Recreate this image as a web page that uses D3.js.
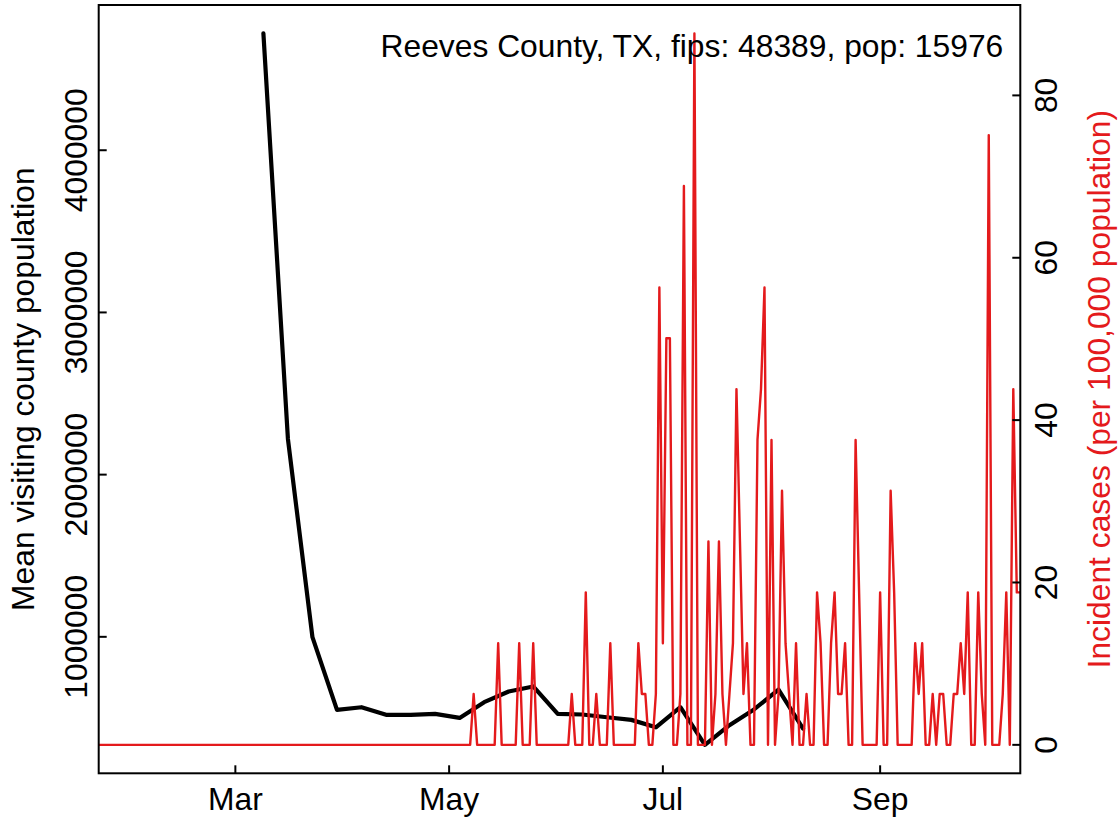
<!DOCTYPE html>
<html>
<head>
<meta charset="utf-8">
<script src="https://cdn.jsdelivr.net/npm/d3@7/dist/d3.min.js"></script>
<style>
  html, body { margin: 0; padding: 0; background: #ffffff; }
  svg { display: block; }
  text { font-family: "Liberation Sans", Arial, Helvetica, sans-serif; }
</style>
</head>
<body>
<svg id="chart" width="1119" height="822"></svg>
<script>
// ---------------- data ----------------
const titleText = "Reeves County, TX, fips: 48389, pop: 15976";
const leftAxisTitle = "Mean visiting county population";
const rightAxisTitle = "Incident cases (per 100,000 population)";

// weekly mean visiting county population (black line)
const mobilityDates = [
  "2020-03-09","2020-03-16","2020-03-23","2020-03-30","2020-04-06","2020-04-13",
  "2020-04-20","2020-04-27","2020-05-04","2020-05-11","2020-05-18","2020-05-25",
  "2020-06-01","2020-06-08","2020-06-15","2020-06-22","2020-06-29","2020-07-06",
  "2020-07-13","2020-07-20","2020-07-27","2020-08-03","2020-08-10"
];
const mobilityValues = [
  4720000, 2220000, 998000, 550000, 566000, 519000,
  519000, 525000, 500000, 597000, 663000, 694000,
  525000, 521000, 504000, 488000, 442000, 566000,
  334000, 455000, 552000, 675000, 434000
];

// daily incident cases per 100,000 (red line), from 2020-01-22 to 2020-10-11
const caseStartDate = "2020-01-22";
const caseValues = [
  0,0,0,0,0,0,0,0,0,0,
  0,0,0,0,0,0,0,0,0,0,
  0,0,0,0,0,0,0,0,0,0,
  0,0,0,0,0,0,0,0,0,0,
  0,0,0,0,0,0,0,0,0,0,
  0,0,0,0,0,0,0,0,0,0,
  0,0,0,0,0,0,0,0,0,0,
  0,0,0,0,0,0,0,0,0,0,
  0,0,0,0,0,0,0,0,0,0,
  0,0,0,0,0,0,0,0,0,0,
  0,0,0,0,0,0,0,
  6.26,0,0,0,0,0,0,12.52,0,0,
  0,0,0,12.52,0,0,0,12.52,0,0,
  0,0,0,0,0,0,0,0,6.26,0,
  0,0,18.78,0,0,6.26,0,0,0,12.52,
  0,0,0,0,0,0,0,12.52,6.26,6.26,
  0,0,6.26,56.33,12.52,50.08,50.08,0,0,6.26,
  68.85,0,0,87.63,0,0,0,25.04,0,6.26,
  25.04,6.26,0,6.26,12.52,43.82,25.04,6.26,12.52,0,
  0,37.56,43.82,56.33,0,37.56,0,6.26,31.30,12.52,
  6.26,0,12.52,0,0,6.26,0,0,18.78,12.52,
  0,0,12.52,18.78,6.26,6.26,12.52,0,0,37.56,
  18.78,0,0,0,0,0,18.78,0,0,31.30,
  18.78,0,0,0,0,0,12.52,6.26,12.52,0,
  0,6.26,0,6.26,6.26,0,0,6.26,6.26,12.52,
  6.26,18.78,0,0,18.78,6.26,0,75.11,0,0,
  0,6.26,18.78,0,43.82,18.78,18.78
];

const xTickDates = ["2020-03-01","2020-05-01","2020-07-01","2020-09-01"];
const xTickLabels = ["Mar","May","Jul","Sep"];
const leftTicks = [1000000, 2000000, 3000000, 4000000];
const leftTickLabels = ["1000000","2000000","3000000","4000000"];
const rightTicks = [0, 20, 40, 60, 80];
const rightTickLabels = ["0","20","40","60","80"];

// ---------------- layout ----------------
const plot = { left: 98.7, right: 1020.3, top: 5, bottom: 773.3 };
const fontSize = 31.8;
const red = "#E41A1C";

const parse = d3.utcParse("%Y-%m-%d");
const start = parse(caseStartDate);
const caseData = caseValues.map((v, i) => ({ date: d3.utcDay.offset(start, i), value: v }));
const mobData = mobilityDates.map((d, i) => ({ date: parse(d), value: mobilityValues[i] }));

const x = d3.scaleUtc()
  .domain([caseData[0].date, caseData[caseData.length - 1].date])
  .range([plot.left, plot.right]);

function rPad(ext) { const r = ext[1] - ext[0]; return [ext[0] - 0.04 * r, ext[1] + 0.04 * r]; }

const yL = d3.scaleLinear().domain(rPad(d3.extent(mobilityValues))).range([plot.bottom, plot.top]);
const yR = d3.scaleLinear().domain(rPad(d3.extent(caseValues))).range([plot.bottom, plot.top]);

const svg = d3.select("#chart");

// black line
svg.append("path")
  .datum(mobData)
  .attr("fill", "none")
  .attr("stroke", "#000")
  .attr("stroke-width", 4.2)
  .attr("stroke-linejoin", "round")
  .attr("stroke-linecap", "round")
  .attr("d", d3.line().x(d => x(d.date)).y(d => yL(d.value)));

// red line
svg.append("path")
  .datum(caseData)
  .attr("fill", "none")
  .attr("stroke", red)
  .attr("stroke-width", 2.4)
  .attr("stroke-linejoin", "round")
  .attr("d", d3.line().x(d => x(d.date)).y(d => yR(d.value)));

// box
svg.append("rect")
  .attr("x", plot.left).attr("y", plot.top)
  .attr("width", plot.right - plot.left).attr("height", plot.bottom - plot.top)
  .attr("fill", "none").attr("stroke", "#000").attr("stroke-width", 2);

const tickLen = 8;

// bottom axis (ticks inward)
const gx = svg.append("g");
xTickDates.forEach((d, i) => {
  const px = x(parse(d));
  gx.append("line").attr("x1", px).attr("x2", px)
    .attr("y1", plot.bottom).attr("y2", plot.bottom - tickLen)
    .attr("stroke", "#000").attr("stroke-width", 2);
  gx.append("text").attr("x", px).attr("y", 810)
    .attr("text-anchor", "middle").attr("font-size", fontSize)
    .attr("fill", "#000").text(xTickLabels[i]);
});

// left axis
const gl = svg.append("g");
leftTicks.forEach((v, i) => {
  const py = yL(v);
  gl.append("line").attr("x1", plot.left).attr("x2", plot.left + tickLen)
    .attr("y1", py).attr("y2", py).attr("stroke", "#000").attr("stroke-width", 2);
  gl.append("text").attr("transform", `translate(87,${py}) rotate(-90)`)
    .attr("text-anchor", "middle").attr("font-size", fontSize)
    .attr("fill", "#000").text(leftTickLabels[i]);
});
svg.append("text")
  .attr("transform", `translate(33.5,${(plot.top + plot.bottom) / 2}) rotate(-90)`)
  .attr("text-anchor", "middle").attr("font-size", fontSize).attr("fill", "#000")
  .text(leftAxisTitle);

// right axis
const gr = svg.append("g");
rightTicks.forEach((v, i) => {
  const py = yR(v);
  gr.append("line").attr("x1", plot.right).attr("x2", plot.right - tickLen)
    .attr("y1", py).attr("y2", py).attr("stroke", "#000").attr("stroke-width", 2);
  gr.append("text").attr("transform", `translate(1056.7,${py}) rotate(-90)`)
    .attr("text-anchor", "middle").attr("font-size", fontSize)
    .attr("fill", "#000").text(rightTickLabels[i]);
});
svg.append("text")
  .attr("transform", `translate(1110,${(plot.top + plot.bottom) / 2}) rotate(-90)`)
  .attr("text-anchor", "middle").attr("font-size", fontSize).attr("fill", red)
  .text(rightAxisTitle);

// legend-like title
svg.append("text").attr("x", 1003.3).attr("y", 56.7)
  .attr("text-anchor", "end").attr("font-size", fontSize).attr("fill", "#000")
  .text(titleText);
</script>
</body>
</html>
